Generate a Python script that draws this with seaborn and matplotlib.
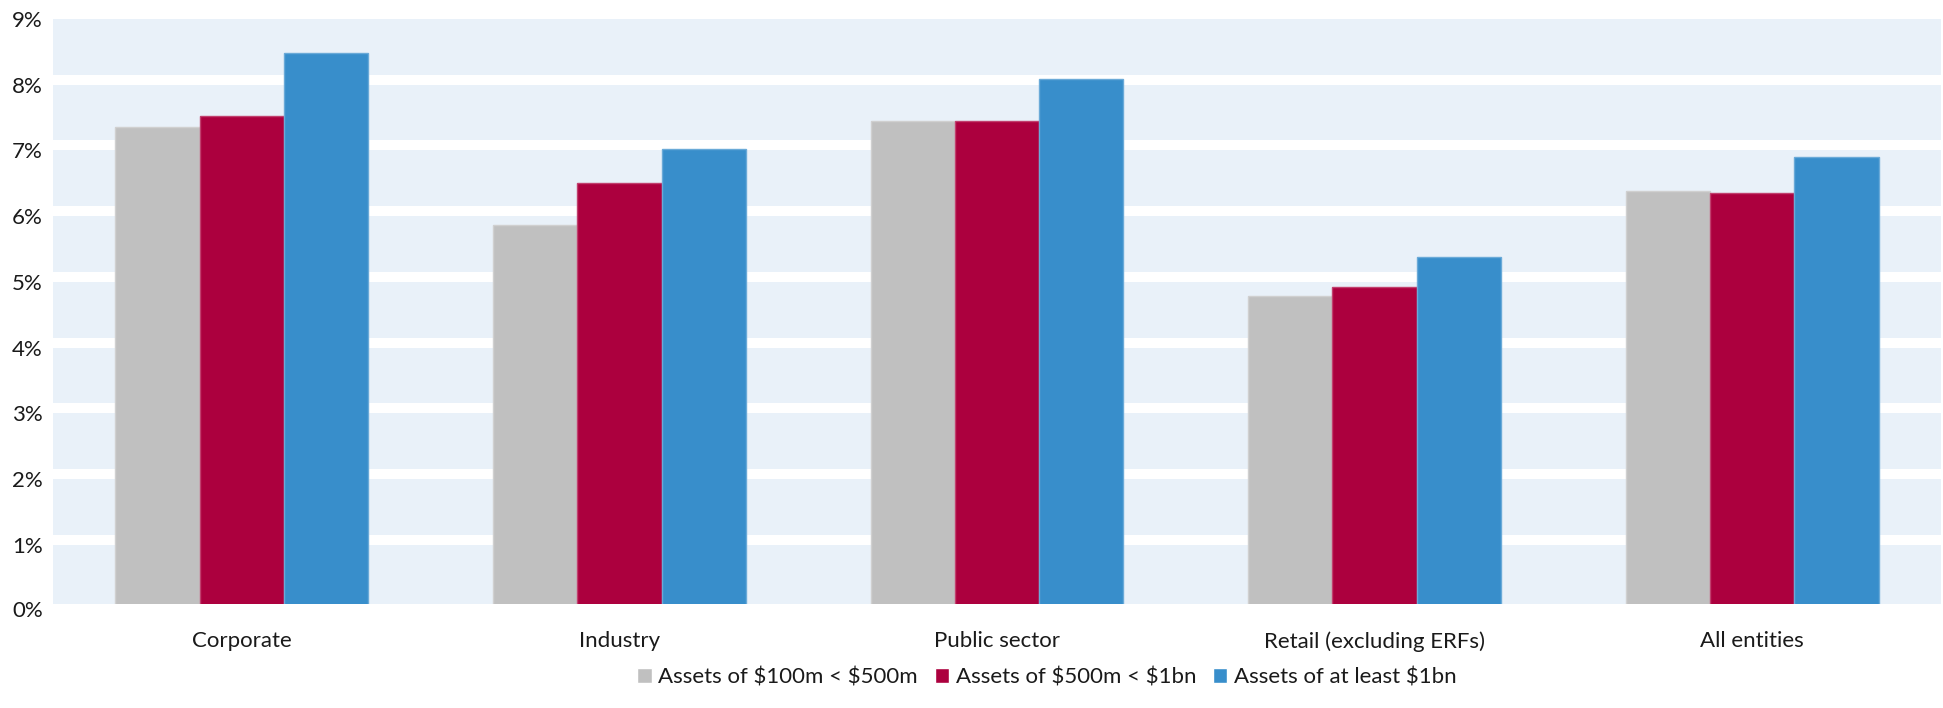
import matplotlib
matplotlib.use("Agg")
import matplotlib.pyplot as plt
import matplotlib.colors as mcolors
import pandas as pd
import seaborn as sns

# Average cost by sector and asset size (%)
sectors = ["Corporate", "Industry", "Public sector", "Retail (excluding ERFs)", "All entities"]
series = ["Assets of $100m < $500m", "Assets of $500m < $1bn", "Assets of at least $1bn"]
small_funds = [7.36, 5.87, 7.45, 4.78, 6.38]
mid_funds = [7.53, 6.50, 7.45, 4.92, 6.36]
large_funds = [8.48, 7.02, 8.08, 5.38, 6.90]
y_ticks = [0, 1, 2, 3, 4, 5, 6, 7, 8, 9]
y_tick_labels = [f"{t}%" for t in y_ticks]

colors = ["#C0C0C0", "#AC003E", "#388ECB"]
band_color = "#E9F1F9"
text_color = "#1A1A1A"
font_size = 16

df = pd.DataFrame({
    "sector": sectors * 3,
    "series": [series[0]] * 5 + [series[1]] * 5 + [series[2]] * 5,
    "value": small_funds + mid_funds + large_funds,
})

sns.set_theme(style="white")
plt.rcParams["font.family"] = ["Lato", "DejaVu Sans"]
plt.rcParams["text.parse_math"] = False

W, H = 1943, 708
fig = plt.figure(figsize=(W / 100, H / 100), dpi=100)
fig.patch.set_facecolor("white")

ax_left, ax_right, ax_top, ax_bottom = 53, 1941, 19, 604
ax = fig.add_axes([ax_left / W, 1 - ax_bottom / H,
                   (ax_right - ax_left) / W, (ax_bottom - ax_top) / H])
ax.set_facecolor(band_color)

sns.barplot(data=df, x="sector", y="value", hue="series", order=sectors,
            hue_order=series, palette=colors, width=0.67, saturation=1,
            ax=ax, zorder=3, err_kws={"linewidth": 0})

# thin lighter outline around each bar
for container, c in zip(ax.containers, colors):
    edge = mcolors.to_hex([0.75 * v + 0.25 for v in mcolors.to_rgb(c)])
    for patch in container:
        patch.set_edgecolor(edge)
        patch.set_linewidth(1.0)

# white separators just above each gridline
gap = 10 / 65.72
for k in range(1, 9):
    ax.axhspan(k, k + gap, color="white", lw=0, zorder=1)

ax.set_xlim(-0.5, 4.5)
ax.set_ylim(6.5 / 65.72, 9)
ax.set_yticks(y_ticks[1:])
ax.set_yticklabels(y_tick_labels[1:])
ax.annotate(y_tick_labels[0], xy=(0, 0), xycoords=ax.get_yaxis_transform(),
            xytext=(-7.2, 0), textcoords="offset points", ha="right", va="center",
            fontsize=font_size, color=text_color, annotation_clip=False)

ax.tick_params(axis="y", length=0, pad=7.2, labelsize=font_size, labelcolor=text_color)
ax.tick_params(axis="x", length=0, pad=19.5, labelsize=font_size, labelcolor=text_color)
ax.set_xlabel("")
ax.set_ylabel("")
for s in ax.spines.values():
    s.set_visible(False)
ax.grid(False)

handles, labels = ax.get_legend_handles_labels()
ax.get_legend().remove()
fig.legend(handles, labels, loc="center", bbox_to_anchor=(1047 / W, 1 - 677 / H),
           ncol=3, frameon=False, fontsize=font_size, handlelength=0.65, handleheight=0.65,
           handletextpad=0.3, columnspacing=0.75, labelcolor=text_color)

fig.savefig("out.png", dpi=100, facecolor="white")
